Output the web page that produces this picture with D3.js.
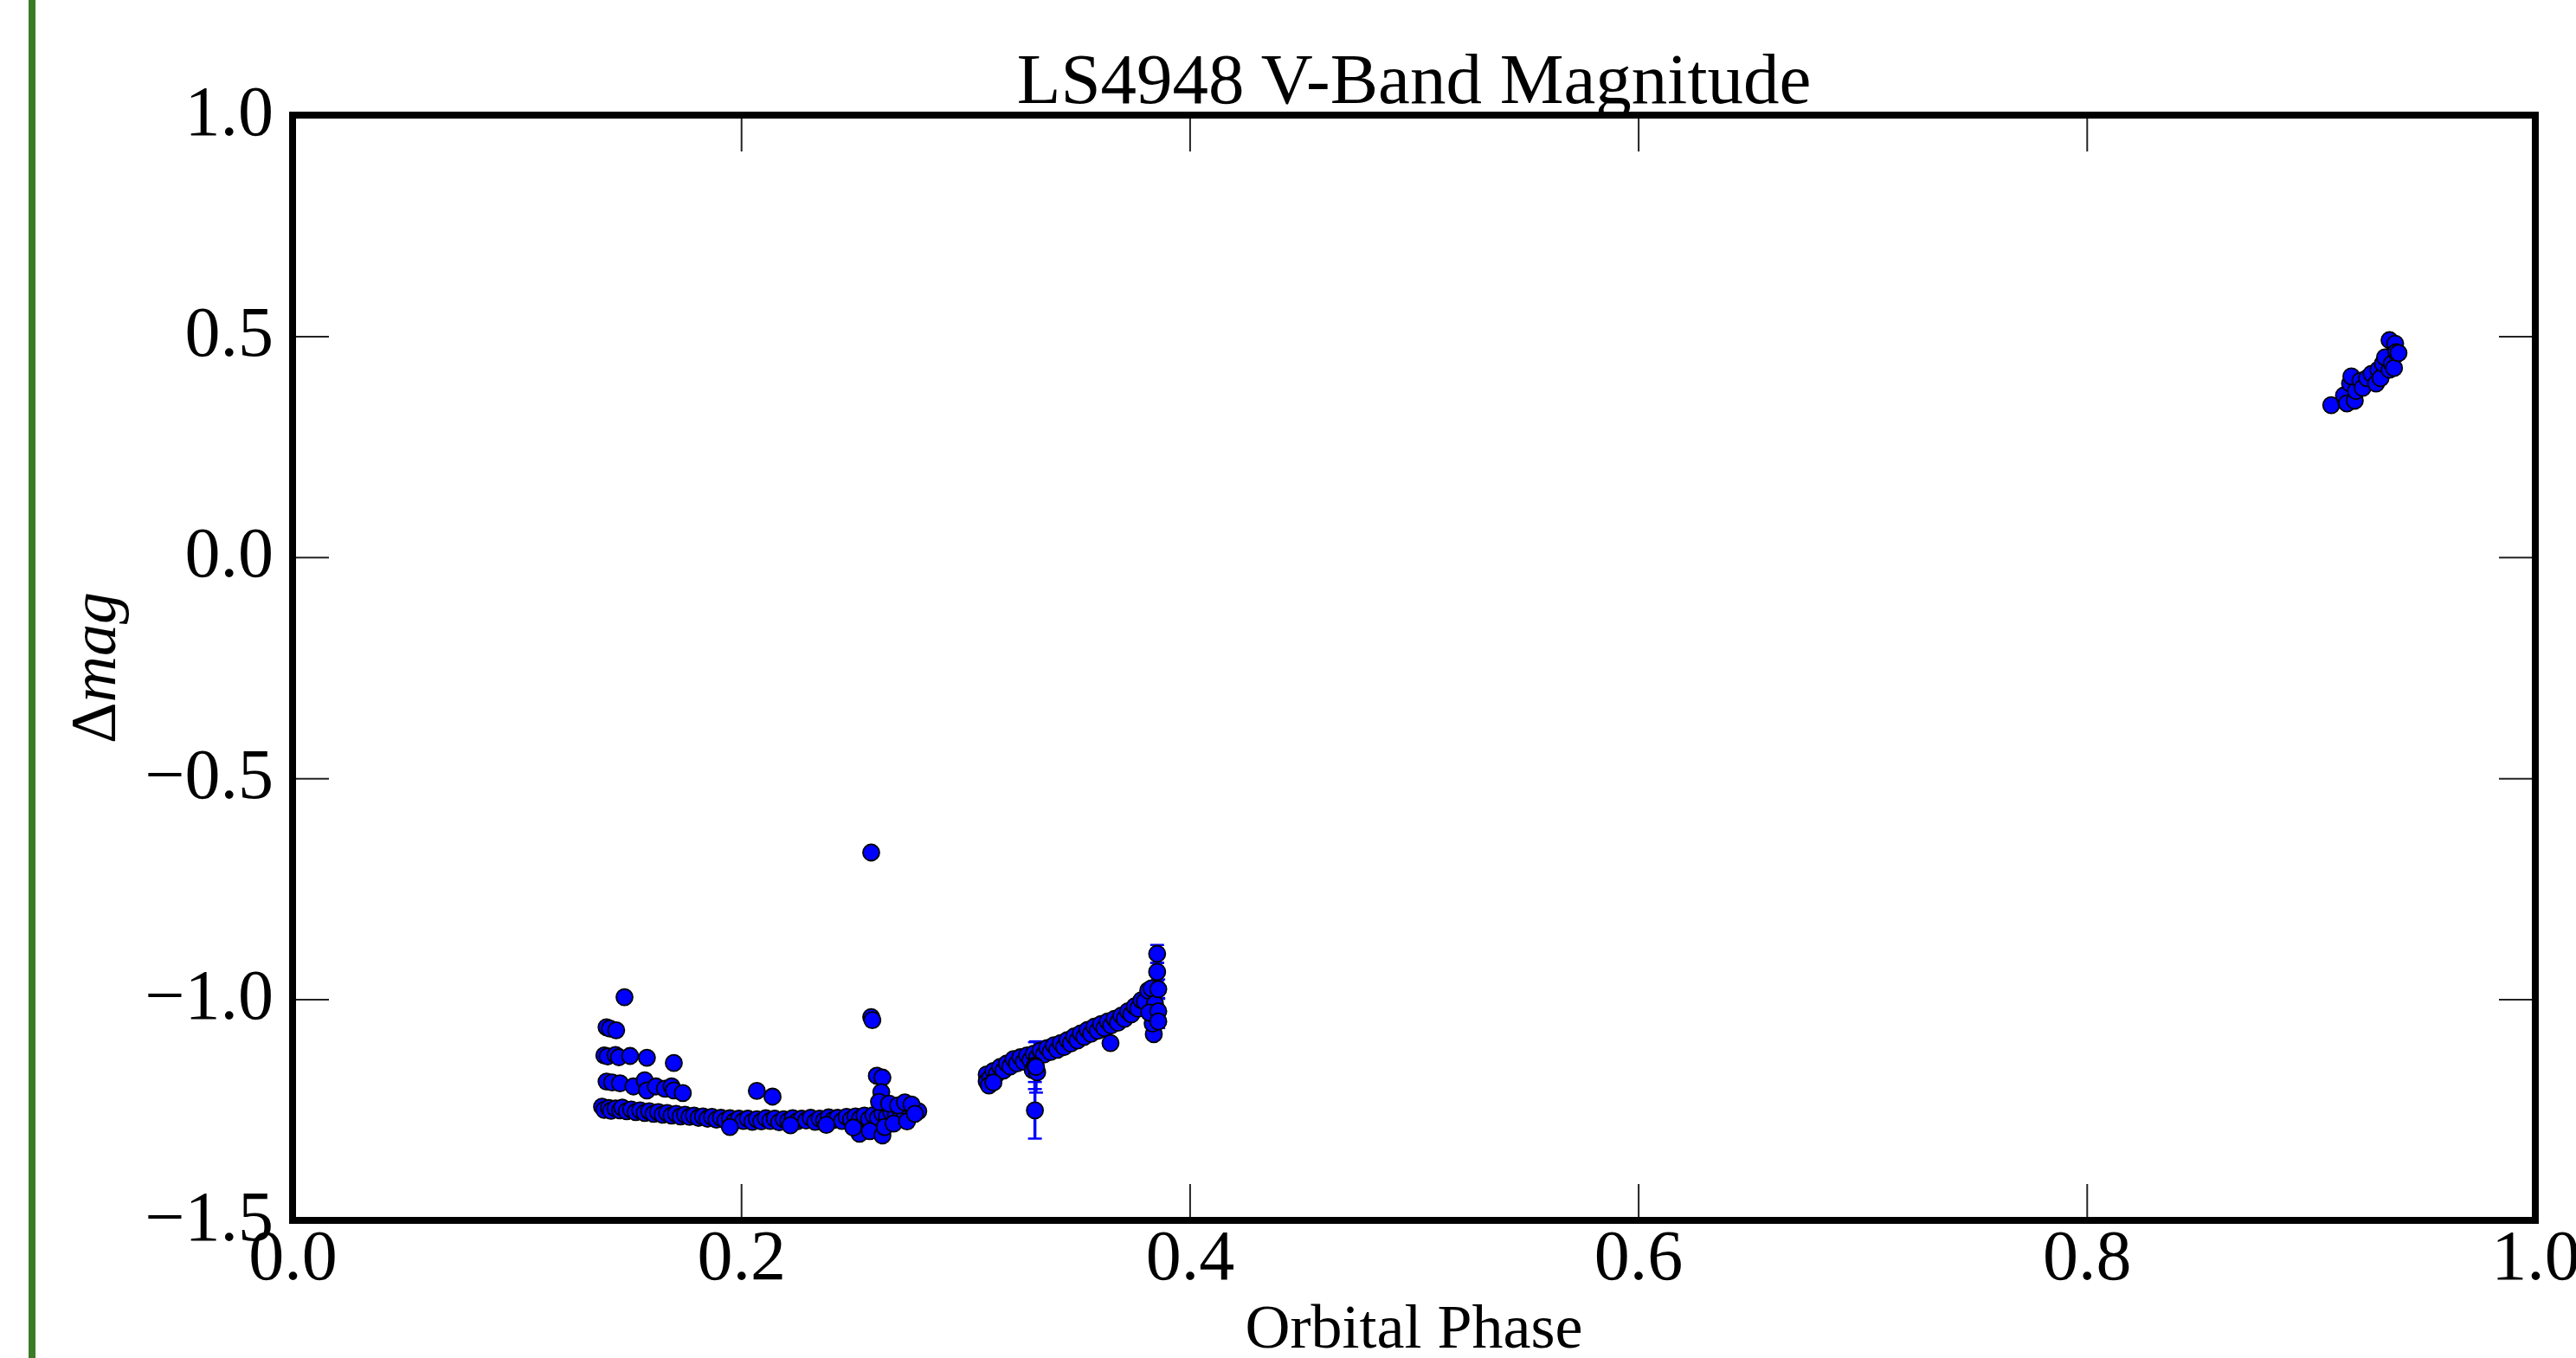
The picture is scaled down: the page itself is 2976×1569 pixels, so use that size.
<!DOCTYPE html>
<html>
<head>
<meta charset="utf-8">
<script src="https://cdn.jsdelivr.net/npm/d3@7"></script>
<style>
    html, body { margin: 0; padding: 0; background: #fff; }
    svg { display: block; }
</style>
</head>
<body>
<svg id="chart"></svg>
<script>
// tick values
const xTicks = [0.0, 0.2, 0.4, 0.6, 0.8, 1.0];
const yTicks = [-1.5, -1.0, -0.5, 0.0, 0.5, 1.0];

// first night, main band [phase, dmag]
const night1Band = [
    [0.138,-1.243],[0.139,-1.250],[0.141,-1.246],[0.142,-1.252],[0.144,-1.247],[0.146,-1.251],
    [0.147,-1.245],[0.149,-1.253],[0.151,-1.249],[0.153,-1.255],[0.155,-1.251],[0.157,-1.257],
    [0.159,-1.253],[0.161,-1.259],[0.163,-1.255],[0.165,-1.261],[0.167,-1.257],[0.169,-1.263],
    [0.171,-1.259],[0.173,-1.265],[0.175,-1.261],[0.177,-1.266],[0.179,-1.263],[0.181,-1.268],
    [0.183,-1.265],[0.185,-1.270],[0.187,-1.266],[0.189,-1.272],[0.191,-1.268],[0.193,-1.274],
    [0.195,-1.269],[0.197,-1.276],[0.199,-1.270],[0.201,-1.275],[0.203,-1.270],[0.205,-1.277],
    [0.207,-1.271],[0.209,-1.276],[0.211,-1.269],[0.213,-1.275],[0.215,-1.270],[0.217,-1.278],
    [0.219,-1.271],[0.221,-1.275],[0.223,-1.269],[0.225,-1.276],[0.227,-1.270],[0.229,-1.274],
    [0.231,-1.268],[0.233,-1.277],[0.235,-1.270],[0.237,-1.274],[0.239,-1.267],[0.241,-1.273],
    [0.243,-1.268],[0.245,-1.275],[0.247,-1.266],[0.249,-1.272],[0.251,-1.265],[0.253,-1.270],
    [0.255,-1.263],[0.257,-1.271],[0.259,-1.262],[0.261,-1.268],[0.263,-1.258],[0.265,-1.266],
    [0.267,-1.255],[0.269,-1.262],[0.271,-1.250],[0.273,-1.260],[0.275,-1.248],[0.277,-1.258],
    [0.279,-1.253]
];

// first night, scattered points above/below the band
const night1Spread = [
    [0.1400,-1.063],[0.1415,-1.066],[0.1443,-1.070],[0.148,-0.995],
    [0.139,-1.127],[0.1405,-1.129],[0.144,-1.126],[0.1455,-1.131],[0.1505,-1.128],[0.158,-1.132],[0.170,-1.144],
    [0.140,-1.186],[0.1425,-1.188],[0.146,-1.190],[0.152,-1.197],[0.157,-1.183],[0.158,-1.206],
    [0.162,-1.197],[0.166,-1.202],[0.169,-1.197],[0.170,-1.206],[0.174,-1.212],
    [0.207,-1.207],[0.214,-1.220],[0.195,-1.289],[0.222,-1.285],[0.238,-1.284],
    [0.258,-0.668],[0.258,-1.040],[0.2585,-1.047],[0.2605,-1.173],[0.263,-1.177],[0.2625,-1.210],[0.2615,-1.232],
    [0.2528,-1.304],[0.2574,-1.298],[0.263,-1.308],[0.264,-1.289],[0.250,-1.290],
    [0.266,-1.236],[0.270,-1.240],[0.273,-1.233],[0.276,-1.238],[0.268,-1.281],[0.274,-1.276],[0.2775,-1.259]
];

// second night
const night2Band = [
    [0.3095,-1.170],[0.3095,-1.186],[0.311,-1.178],[0.3125,-1.162],[0.314,-1.169],[0.3155,-1.153],
    [0.317,-1.161],[0.3185,-1.145],[0.320,-1.152],[0.3215,-1.135],[0.323,-1.145],[0.3245,-1.131],
    [0.326,-1.141],[0.3275,-1.127],[0.329,-1.137],[0.3305,-1.123],[0.332,-1.131],[0.3335,-1.116],
    [0.335,-1.125],[0.3365,-1.110],[0.338,-1.119],[0.3395,-1.104],[0.341,-1.114],[0.3425,-1.099],
    [0.344,-1.108],[0.3455,-1.092],[0.347,-1.100],[0.3485,-1.084],[0.350,-1.093],[0.3515,-1.077],
    [0.353,-1.085],[0.3545,-1.069],[0.356,-1.078],[0.3575,-1.062],[0.359,-1.071],[0.3605,-1.056],
    [0.362,-1.065],[0.3635,-1.050],[0.365,-1.059],[0.3665,-1.044],[0.368,-1.053],[0.3695,-1.037],
    [0.371,-1.044],[0.3725,-1.027],[0.374,-1.034],[0.3755,-1.016],[0.377,-1.021],[0.3785,-1.002],
    [0.380,-1.005],[0.3815,-0.980],[0.383,-0.975]
];

const night2Spread = [
    [0.3105,-1.195],[0.3125,-1.188],[0.330,-1.160],[0.332,-1.165],[0.3647,-1.099],
    [0.384,-1.079],[0.3845,-1.010],[0.385,-1.035],[0.3835,-1.055],[0.382,-1.030]
];

// points with visible error bars [phase, dmag, err]
const errPoints = [
    [0.331,-1.251,0.064],[0.331,-1.150,0.053],[0.3315,-1.153,0.058],
    [0.3855,-0.897,0.020],[0.3855,-0.938,0.020],[0.386,-0.977,0.022],
    [0.386,-1.027,0.030],[0.386,-1.050,0.015]
];

// third night
const night3 = [
    [0.909,0.344],[0.9155,0.354],[0.9147,0.366],[0.916,0.348],[0.9195,0.354],[0.9174,0.393],
    [0.918,0.409],[0.920,0.376],[0.922,0.399],[0.923,0.383],[0.925,0.405],[0.927,0.415],
    [0.929,0.393],[0.930,0.424],[0.931,0.405],[0.932,0.438],[0.933,0.452],[0.935,0.424],
    [0.936,0.438],[0.937,0.428],[0.935,0.491],[0.9375,0.483],[0.938,0.464],[0.939,0.462]
];

class LightCurve {
    constructor (element, configs) {
        this.svg = d3.select(element);
        let defaultConfig = {
            width: 2976,
            height: 1569,
            margin: {
                top: 133,
                right: 47,
                bottom: 159,
                left: 338
            },
            font: "'Liberation Serif', 'DejaVu Serif', serif",
            tickLen: 42,
            radius: 9.5
        };
        this.config = Object.assign({}, defaultConfig, configs);
        this.svg.attr("width", this.config.width).attr("height", this.config.height);
        this.initParams();
        this.render();
    }

    initParams () {
        this.width = this.config.width - this.config.margin.left - this.config.margin.right;
        this.height = this.config.height - this.config.margin.top - this.config.margin.bottom;
        this.initAxis();
    }

    initAxis () {
        this.x = d3.scaleLinear().domain([0, 1]).range([0, this.width]);
        this.y = d3.scaleLinear().domain([-1.5, 1.0]).range([this.height, 0]);
    }

    // page border on the left
    drawBorder () {
        this.svg.append("rect")
            .attr("x", 33)
            .attr("y", 0)
            .attr("width", 8)
            .attr("height", this.config.height)
            .attr("fill", "#3c7b26");
    }

    drawAxes () {
        let fmt = d3.format(".1f");
        let len = this.config.tickLen;
        let font = this.config.font;

        let styleAxis = (g) => {
            g.select(".domain").remove();
            g.selectAll(".tick line").attr("stroke", "#222").attr("stroke-width", 2);
            g.selectAll("text")
                .attr("font-family", font)
                .attr("font-size", 82)
                .attr("fill", "#000");
        };

        this.main.append("g")
            .attr("transform", "translate(0," + this.height + ")")
            .call(d3.axisBottom(this.x).tickValues(xTicks).tickSizeInner(-len).tickSizeOuter(0).tickPadding(10).tickFormat(fmt))
            .call(styleAxis);

        this.main.append("g")
            .call(d3.axisTop(this.x).tickValues(xTicks).tickSizeInner(-len).tickSizeOuter(0).tickFormat(""))
            .call(styleAxis);

        this.main.append("g")
            .call(d3.axisLeft(this.y).tickValues(yTicks).tickSizeInner(-len).tickSizeOuter(0).tickPadding(22).tickFormat(fmt))
            .call(styleAxis)
            .selectAll("text").attr("dy", "0.27em");

        this.main.append("g")
            .attr("transform", "translate(" + this.width + ",0)")
            .call(d3.axisRight(this.y).tickValues(yTicks).tickSizeInner(-len).tickSizeOuter(0).tickFormat(""))
            .call(styleAxis);

        // heavy frame
        this.main.append("rect")
            .attr("width", this.width)
            .attr("height", this.height)
            .attr("fill", "none")
            .attr("stroke", "#000")
            .attr("stroke-width", 8);
    }

    drawPoints () {
        let pts = [].concat(night1Band, night1Spread, night2Band, night2Spread,
            errPoints.map((d) => [d[0], d[1]]), night3);

        // error bars under markers
        let bars = this.main.append("g").attr("stroke", "#0000ff");
        bars.selectAll("line.bar")
            .data(errPoints)
            .enter()
            .append("line")
            .attr("class", "bar")
            .attr("x1", (d) => this.x(d[0]))
            .attr("x2", (d) => this.x(d[0]))
            .attr("y1", (d) => this.y(d[1] - d[2]))
            .attr("y2", (d) => this.y(d[1] + d[2]))
            .attr("stroke-width", 3.5);
        [-1, 1].forEach((s) => {
            bars.selectAll("line.cap" + (s + 1))
                .data(errPoints)
                .enter()
                .append("line")
                .attr("x1", (d) => this.x(d[0]) - 8)
                .attr("x2", (d) => this.x(d[0]) + 8)
                .attr("y1", (d) => this.y(d[1] + s * d[2]))
                .attr("y2", (d) => this.y(d[1] + s * d[2]))
                .attr("stroke-width", 2.5);
        });

        this.main.append("g")
            .selectAll("circle")
            .data(pts)
            .enter()
            .append("circle")
            .attr("cx", (d) => this.x(d[0]))
            .attr("cy", (d) => this.y(d[1]))
            .attr("r", this.config.radius)
            .attr("fill", "#0000ff")
            .attr("stroke", "#000")
            .attr("stroke-width", 1.8);
    }

    drawLabels () {
        let m = this.config.margin;
        let font = this.config.font;
        this.svg.append("text")
            .attr("x", m.left + this.width / 2)
            .attr("y", 119)
            .attr("text-anchor", "middle")
            .attr("font-family", font)
            .attr("font-size", 83)
            .text("LS4948 V-Band Magnitude");

        this.svg.append("text")
            .attr("x", m.left + this.width / 2)
            .attr("y", 1557)
            .attr("text-anchor", "middle")
            .attr("font-family", font)
            .attr("font-size", 72)
            .text("Orbital Phase");

        let yl = this.svg.append("text")
            .attr("transform", "translate(133," + (m.top + this.height / 2) + ") rotate(-90)")
            .attr("text-anchor", "middle")
            .attr("font-family", font)
            .attr("font-size", 74);
        yl.append("tspan").text("Δ");
        yl.append("tspan").attr("font-style", "italic").text("mag");
    }

    render () {
        this.drawBorder();
        this.main = this.svg.append("g")
            .attr("transform", "translate(" + this.config.margin.left + "," + this.config.margin.top + ")");
        this.drawPoints();
        this.drawAxes();
        this.drawLabels();
    }
}

new LightCurve("#chart", {});
</script>
</body>
</html>
